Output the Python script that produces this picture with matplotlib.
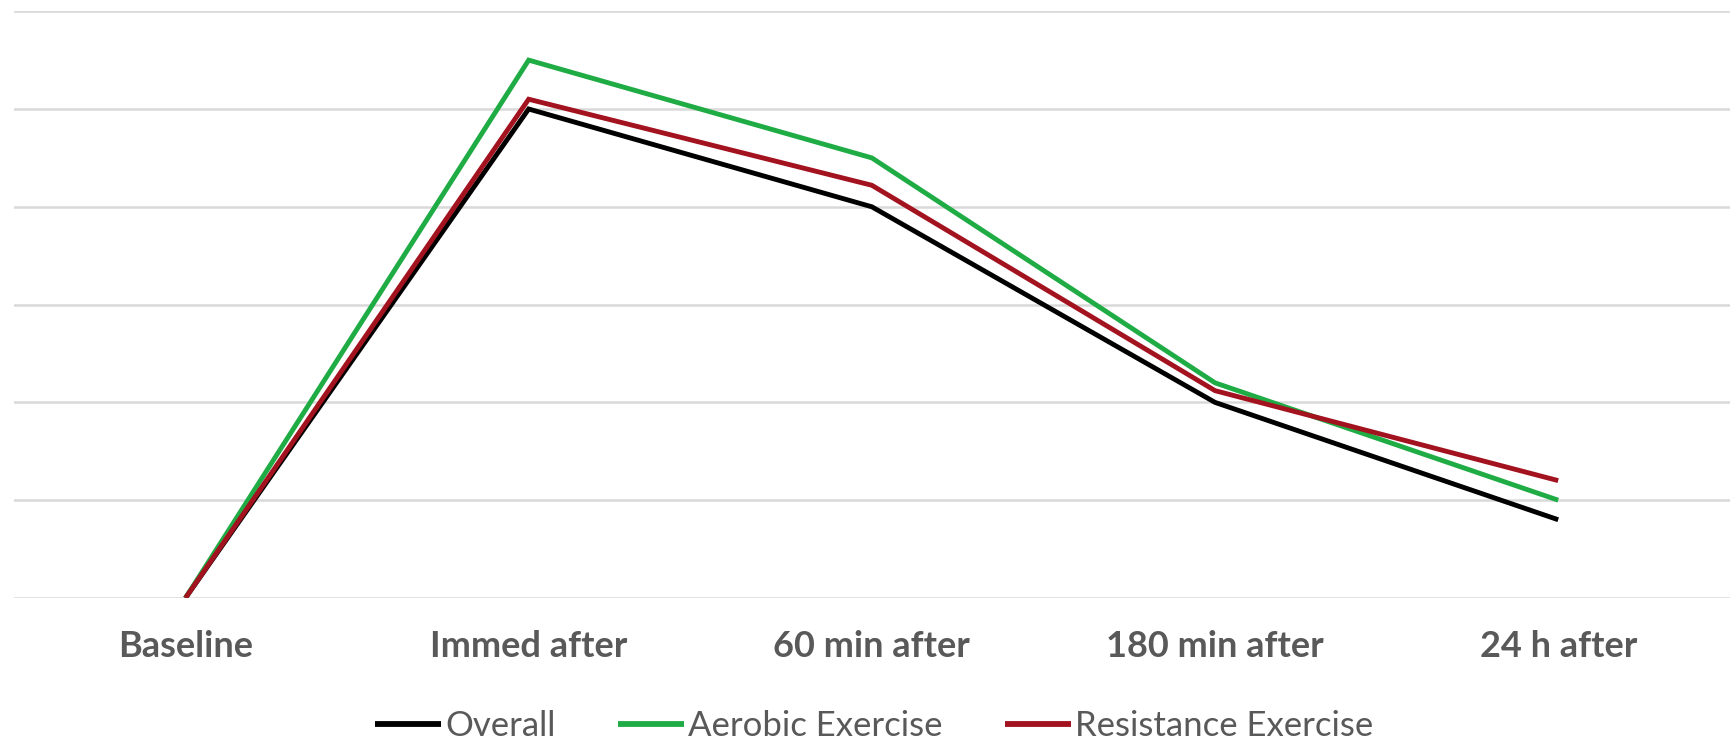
import matplotlib
matplotlib.use("Agg")
import matplotlib.pyplot as plt

# Time points and mean response for each exercise group
categories = ["Baseline", "Immed after", "60 min after", "180 min after", "24 h after"]
overall = [0.0, 5.0, 4.0, 2.0, 0.8]
aerobic = [0.0, 5.5, 4.5, 2.2, 1.0]
resistance = [0.0, 5.1, 4.22, 2.12, 1.2]

series_names = ["Overall", "Aerobic Exercise", "Resistance Exercise"]
series_colors = ["#000000", "#1fac45", "#a3121f"]

plt.rcParams["font.family"] = ["Lato", "DejaVu Sans"]

fig = plt.figure(figsize=(17.35, 7.47), dpi=100)
ax = fig.add_axes([0.008, 0.1995, 0.989, 0.7855])

x = list(range(len(categories)))
for vals, name, color in zip([overall, aerobic, resistance], series_names, series_colors):
    ax.plot(x, vals, color=color, linewidth=3.5, label=name,
            solid_joinstyle="miter", solid_capstyle="butt", zorder=3)

ax.set_xlim(-0.5, len(categories) - 0.5)
ax.set_ylim(0, 6)
ax.set_yticks(range(0, 7))
ax.yaxis.grid(True, color="#d9d9d9", linewidth=1.8)
ax.set_axisbelow(True)
ax.tick_params(axis="y", left=False, labelleft=False)
ax.tick_params(axis="x", bottom=False, pad=19.5)
ax.set_xticks(x)
ax.set_xticklabels(categories, fontsize=26, fontweight="bold", color="#595959")
for spine in ax.spines.values():
    spine.set_visible(False)

handles, labels = ax.get_legend_handles_labels()
leg = fig.legend(handles, labels, loc="center", bbox_to_anchor=(0.504, 0.028), ncol=3,
                 frameon=False, fontsize=25, handlelength=1.9, handletextpad=0.12,
                 columnspacing=1.8, labelcolor="#595959")
for line in leg.get_lines():
    line.set_linewidth(4.2)

fig.savefig("out.png", dpi=100, facecolor="white")
